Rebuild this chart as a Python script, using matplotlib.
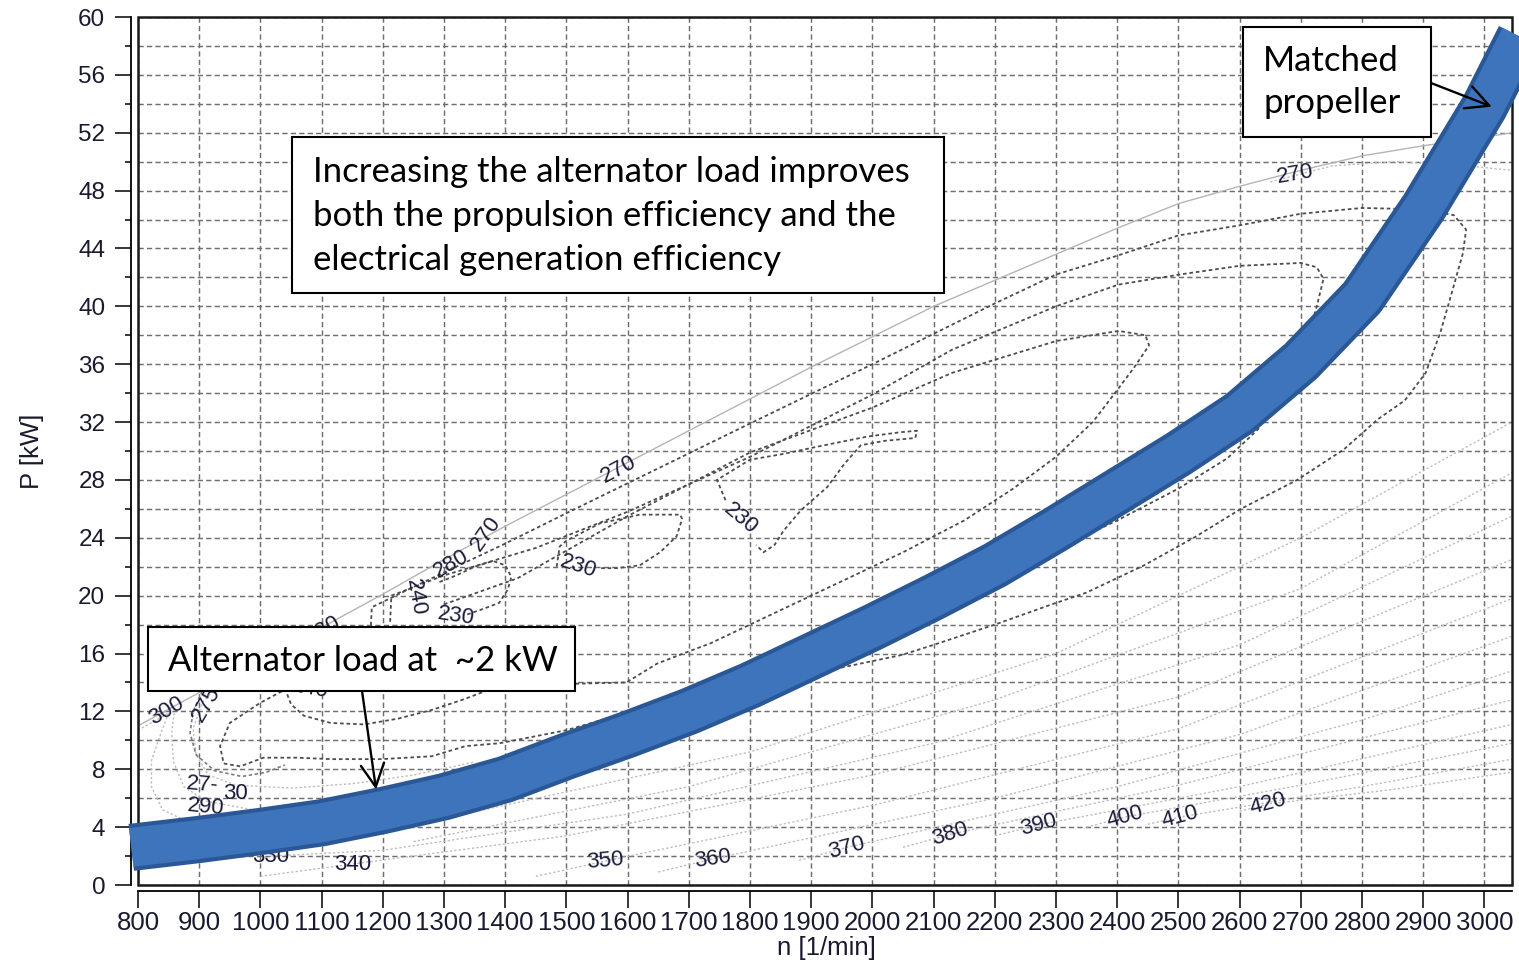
import matplotlib
matplotlib.use("Agg")
import matplotlib.pyplot as plt
import matplotlib.patheffects as pe
from matplotlib.patches import Rectangle
from matplotlib.ticker import MultipleLocator
import numpy as np

# ---------------- data ----------------
x_ticks = list(range(800, 3001, 100))
x_tick_labels = [str(v) for v in x_ticks]
y_ticks = list(range(0, 61, 4))
y_tick_labels = [str(v) for v in y_ticks]

# matched propeller / operating band (centre line)
band_rpm = [789, 900, 1000, 1100, 1200, 1300, 1400, 1500, 1600, 1700, 1800, 1900,
            2000, 2100, 2200, 2300, 2400, 2500, 2600, 2700, 2800, 2900, 3000, 3060]
band_p = [2.6, 3.15, 3.7, 4.3, 5.15, 6.1, 7.3, 8.9, 10.4, 12.0, 13.8, 15.8,
          17.8, 19.9, 22.1, 24.6, 27.2, 29.8, 32.6, 36.2, 40.6, 46.8, 53.8, 58.8]

# solid 270 g/kWh iso-line (upper boundary)
iso270_rpm = [800, 900, 1000, 1100, 1200, 1300, 1400, 1500, 1600, 1700, 1800, 1900,
              2000, 2100, 2200, 2300, 2400, 2500, 2600, 2700, 2800, 2900, 3000, 3045]
iso270_p = [11.0, 13.3, 15.6, 17.8, 20.1, 22.5, 24.8, 27.0, 29.2, 31.4, 33.6, 35.8,
            37.9, 40.0, 41.8, 43.6, 45.4, 47.1, 48.3, 49.4, 50.4, 51.1, 51.7, 52.0]

# dark dashed iso-lines
isoA_rpm = [1180, 1182, 1250, 1400, 1500, 1650, 1800, 2000, 2200, 2300, 2400, 2500, 2600,
            2700, 2800, 2900, 2950, 2970, 2965, 2945, 2928, 2904, 2870, 2826, 2770, 2694,
            2602, 2529, 2444, 2349, 2293, 2200, 2100, 2048, 1980, 1900, 1828, 1746, 1697,
            1598, 1500, 1391, 1335, 1280, 1198, 1115, 1060, 1005, 967, 940, 934, 950, 1000, 1040]
isoA_p = [17.5, 19.2, 20.6, 23.6, 25.7, 28.8, 31.9, 36.0, 40.2, 42.2, 43.5, 44.9, 45.6,
          46.4, 46.8, 46.7, 46.3, 45.3, 43.7, 40.7, 38.2, 35.4, 33.5, 32.2, 30.1, 28.0,
          26.0, 24.1, 22.1, 20.2, 19.4, 18.0, 16.6, 15.9, 15.3, 14.6, 14.4, 13.9, 13.0,
          11.9, 10.7, 9.8, 9.6, 8.9, 8.7, 8.7, 8.8, 8.8, 8.2, 8.4, 9.6, 11.2, 12.6, 13.5]

isoB_rpm = [1212, 1214, 1300, 1450, 1600, 1800, 2000, 2130, 2300, 2402, 2502, 2600, 2700,
            2726, 2737, 2726, 2714, 2690, 2660, 2630, 2580, 2500, 2400, 2300]
isoB_p = [18.2, 20.0, 21.4, 23.3, 25.8, 29.6, 33.9, 37.0, 40.0, 41.5, 42.2, 42.8, 43.0,
          42.7, 41.9, 40.0, 38.2, 36.1, 33.8, 31.5, 29.5, 27.4, 25.2, 23.2]

isoC_rpm = [1300, 1420, 1600, 1800, 2000, 2130, 2300, 2402, 2446, 2452, 2428, 2398, 2360,
            2300, 2230, 2150, 2050, 1950, 1850, 1735, 1697, 1648, 1598, 1500, 1420]
isoC_p = [19.4, 21.2, 25.5, 29.9, 33.0, 35.4, 37.6, 38.3, 38.0, 37.3, 35.8, 34.1, 32.0,
          29.6, 27.4, 25.2, 23.0, 21.0, 19.0, 16.7, 16.1, 15.3, 14.0, 13.9, 13.5]

iso230a_rpm = [1484, 1489, 1500, 1555, 1598, 1620, 1653, 1686, 1689, 1680, 1653, 1620, 1582, 1555]
iso230a_p = [22.0, 23.4, 23.8, 25.0, 25.4, 25.6, 25.6, 25.6, 25.3, 24.1, 23.0, 22.1, 21.9, 21.9]

iso230b_rpm = [1760, 1746, 1773, 1800, 1855, 1910, 1992, 2046, 2073, 2070, 2019, 1981, 1954,
               1926, 1883, 1855, 1840, 1822, 1810]
iso230b_p = [26.6, 28.0, 28.7, 29.4, 29.8, 30.3, 31.0, 31.3, 31.4, 30.9, 30.7, 30.4, 29.1,
             27.5, 25.9, 24.5, 23.5, 23.0, 23.5]

iso230c_rpm = [1338, 1365, 1390, 1404, 1410, 1400, 1380, 1350, 1320, 1290]
iso230c_p = [18.7, 19.1, 19.5, 20.4, 21.3, 22.1, 22.4, 22.0, 21.4, 20.9]

iso240_rpm = [1040, 1050, 1071, 1115, 1170, 1225, 1280, 1330, 1380]
iso240_p = [13.6, 12.5, 11.7, 11.2, 11.1, 11.5, 12.1, 12.8, 13.6]

isoE_rpm = [905, 890, 885, 895, 925, 970, 1010, 1040]
isoE_p = [13.4, 12.0, 10.5, 9.0, 7.9, 7.5, 7.8, 8.3]

# light dotted iso-lines
iso280_rpm = [1000, 940, 905, 890, 895, 915, 960, 1050, 1150, 1250, 1350]
iso280_p = [16.2, 14.2, 12.6, 10.8, 9.0, 7.6, 6.9, 6.7, 7.0, 7.6, 8.5]
iso290_rpm = [860, 855, 858, 875, 911, 1000, 1100]
iso290_p = [12.2, 10.5, 8.5, 6.8, 5.8, 5.1, 5.0]
iso300_rpm = [800, 830, 850, 835, 822, 822, 840, 880, 950]
iso300_p = [10.7, 11.4, 11.9, 10.2, 8.6, 6.8, 5.2, 4.4, 3.9]
iso280r_rpm = [2650, 2750, 2850, 2950, 3045]
iso280r_p = [48.6, 49.7, 50.0, 49.8, 49.4]
iso310_rpm = [1300, 1800, 2300, 2700, 3045]
iso310_p = [4.6, 9.2, 16.0, 24.0, 32.0]
iso320_rpm = [1250, 1700, 2200, 2700, 3045]
iso320_p = [3.0, 6.8, 12.8, 20.5, 28.5]
iso330_rpm = [1017, 1200, 1600, 2100, 2600, 3045]
iso330_p = [2.0, 2.4, 4.9, 9.8, 16.6, 25.5]
iso340_rpm = [1000, 1151, 1500, 2000, 2500, 3045]
iso340_p = [0.6, 1.45, 3.4, 7.6, 13.0, 22.5]
iso350_rpm = [1450, 1564, 2000, 2500, 3045]
iso350_p = [0.6, 1.66, 5.5, 10.8, 19.8]
iso360_rpm = [1650, 1739, 2200, 2600, 3045]
iso360_p = [0.9, 1.8, 6.0, 10.4, 17.2]
iso370_rpm = [1880, 1958, 2400, 2800, 3045]
iso370_p = [1.7, 2.6, 6.8, 11.4, 14.8]
iso380_rpm = [2050, 2127, 2500, 3045]
iso380_p = [2.6, 3.5, 6.9, 12.8]
iso390_rpm = [2200, 2271, 2600, 3045]
iso390_p = [3.4, 4.15, 6.8, 11.1]
iso400_rpm = [2350, 2413, 2700, 3045]
iso400_p = [4.0, 4.7, 6.9, 9.8]
iso410_rpm = [2450, 2503, 2800, 3045]
iso410_p = [4.2, 4.7, 6.8, 8.7]
iso420_rpm = [2600, 2647, 2850, 3045]
iso420_p = [5.1, 5.6, 6.6, 7.8]

# contour labels
lab_text = ["270", "270", "280", "270", "240", "230", "230", "230", "280", "300", "275",
            "240", "27-", "290", "30", "330", "340", "350", "360", "370", "380", "390",
            "400", "410", "420"]
lab_rpm = [1585, 2690, 1311, 1368, 1254, 1319, 1520, 1785, 1102, 846, 911, 1082, 905, 911,
           960, 1017, 1151, 1564, 1739, 1958, 2127, 2271, 2413, 2503, 2647]
lab_p = [28.7, 49.1, 22.2, 24.3, 19.9, 18.6, 22.0, 25.3, 17.6, 12.0, 12.5, 13.55, 6.9, 5.4,
         6.3, 2.0, 1.45, 1.66, 1.8, 2.6, 3.5, 4.15, 4.7, 4.7, 5.6]
lab_rot = [28, 10, 30, 55, -80, -8, -18, -40, 30, 30, 60, -10, -5, -5, 0, 0, 0, 5, 8, 15,
           18, 15, 15, 15, 15]

# ---------------- figure ----------------
W, H = 1519, 965
plt.rcParams["font.family"] = ["Liberation Sans", "DejaVu Sans"]
fig = plt.figure(figsize=(W / 100, H / 100), dpi=100)
L, R, T, B = 138, 1512, 17, 885
ax = fig.add_axes([L / W, 1 - B / H, (R - L) / W, (B - T) / H])
ax.set_xlim(800, 3045)
ax.set_ylim(0, 60)

grid_kw = dict(color="#6f6f6f", lw=1.05, ls=(0, (3.6, 2.2)))
ax.set_xticks(x_ticks)
ax.set_xticklabels(x_tick_labels)
ax.set_yticks(y_ticks)
ax.set_yticklabels(y_tick_labels)
ax.yaxis.set_minor_locator(MultipleLocator(2))
ax.grid(True, which="major", axis="x", **grid_kw)
ax.grid(True, which="both", axis="y", **grid_kw)
ax.set_axisbelow(True)

tick_col = "#1a1a2e"
ax.tick_params(axis="x", which="major", length=12, width=1.1, pad=2.5,
               labelsize=18.5, labelcolor=tick_col)
ax.tick_params(axis="y", which="major", length=11.5, width=1.1, pad=7,
               labelsize=17.5, labelcolor=tick_col)
ax.tick_params(axis="y", which="minor", length=4, width=1.1)
ax.tick_params(axis="x", which="minor", length=0)
for s in ["top", "right"]:
    ax.spines[s].set_visible(False)
ax.spines["left"].set_position(("outward", 5))
ax.spines["bottom"].set_position(("outward", 4.5))
for s in ["left", "bottom"]:
    ax.spines[s].set_linewidth(1.3)
ax.add_patch(Rectangle((0, 0), 1, 1, transform=ax.transAxes, fill=False,
                       ec="#1a1a1a", lw=1.8, clip_on=False, zorder=3.5))

# iso-lines
ax.plot(iso270_rpm, iso270_p, color="#b5b5b5", lw=1.0, zorder=2)
dark_kw = dict(color="#4d4d4d", lw=1.3, ls=(0, (2.0, 1.6)), zorder=2.5)
for xs, ys in [(isoA_rpm, isoA_p), (isoB_rpm, isoB_p), (isoC_rpm, isoC_p),
               (iso230a_rpm, iso230a_p), (iso230b_rpm, iso230b_p),
               (iso230c_rpm, iso230c_p), (iso240_rpm, iso240_p)]:
    ax.plot(xs, ys, **dark_kw)
ax.plot(isoE_rpm, isoE_p, color="#7c7c7c", lw=1.2, ls=(0, (2.0, 1.6)), zorder=2.4)
light_kw = dict(color="#bdbdbd", lw=1.0, ls=(0, (1.6, 1.6)), zorder=2)
for xs, ys in [(iso280_rpm, iso280_p), (iso290_rpm, iso290_p), (iso300_rpm, iso300_p),
               (iso280r_rpm, iso280r_p), (iso310_rpm, iso310_p), (iso320_rpm, iso320_p),
               (iso330_rpm, iso330_p), (iso340_rpm, iso340_p), (iso350_rpm, iso350_p),
               (iso360_rpm, iso360_p), (iso370_rpm, iso370_p), (iso380_rpm, iso380_p),
               (iso390_rpm, iso390_p), (iso400_rpm, iso400_p), (iso410_rpm, iso410_p),
               (iso420_rpm, iso420_p)]:
    ax.plot(xs, ys, **light_kw)

for s, xr, yp, rot in zip(lab_text, lab_rpm, lab_p, lab_rot):
    ax.text(xr, yp, s, rotation=rot, rotation_mode="anchor", ha="center", va="center",
            fontsize=16, color="#1c1c3a", zorder=3)

# operating band
ax.plot(band_rpm, band_p, color="#3e74bc", lw=28, solid_capstyle="butt",
        solid_joinstyle="round", zorder=5, clip_on=False,
        path_effects=[pe.Stroke(linewidth=34, foreground="#2a5796"), pe.Normal()])

# axis labels
fig.text(32 / W, 1 - 451 / H, "P [kW]", rotation=90, ha="center", va="center",
         fontsize=18.5, color=tick_col)
fig.text(826 / W, 1 - 948 / H, "n [1/min]", ha="center", va="center",
         fontsize=18.5, color=tick_col)

# annotation boxes
def box(x0, y0, x1, y1):
    fig.add_artist(Rectangle((x0 / W, 1 - y1 / H), (x1 - x0) / W, (y1 - y0) / H,
                             transform=fig.transFigure, fc="white", ec="black",
                             lw=1.5, zorder=10))

box_font = dict(family=["Lato", "DejaVu Sans"], fontsize=25, color="black", zorder=11)
box(292, 137, 944, 293)
for txt, yb in [("Increasing the alternator load improves", 182),
                ("both the propulsion efficiency and the", 226),
                ("electrical generation efficiency", 270)]:
    fig.text(313 / W, 1 - yb / H, txt, ha="left", va="baseline", **box_font)

box(148, 627, 575, 691)
fig.text(168 / W, 1 - 671 / H, "Alternator load at  ~2 kW", ha="left", va="baseline", **box_font)

box(1243, 27, 1431, 137)
fig.text(1263 / W, 1 - 71 / H, "Matched", ha="left", va="baseline", **box_font)
fig.text(1263 / W, 1 - 113 / H, "propeller", ha="left", va="baseline", **box_font)

arrow_kw = dict(arrowstyle="->,head_length=0.55,head_width=0.28", lw=1.7, color="black",
                shrinkA=0, shrinkB=0, mutation_scale=30)
ax.annotate("", xy=(1189, 6.6), xycoords="data", xytext=(362 / W, 1 - 691 / H),
            textcoords="figure fraction", arrowprops=arrow_kw, zorder=12,
            annotation_clip=False)
ax.annotate("", xy=(3012, 53.8), xycoords="data", xytext=(1431 / W, 1 - 83 / H),
            textcoords="figure fraction", arrowprops=arrow_kw, zorder=12,
            annotation_clip=False)

fig.savefig("out.png", dpi=100)
